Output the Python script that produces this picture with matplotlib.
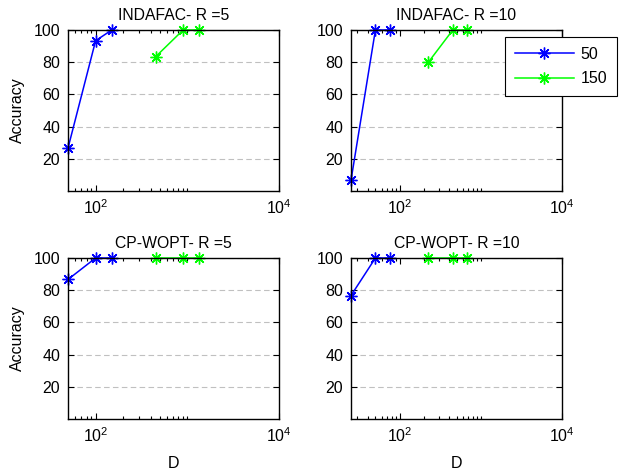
import matplotlib
import numpy as np

matplotlib.use("Agg")
import matplotlib.pyplot as plt  # noqa: E402
from matplotlib.ticker import FixedLocator, LogFormatterMathtext, NullFormatter  # noqa: E402

plt.rcParams["font.family"] = ["Liberation Sans", "DejaVu Sans"]
plt.rcParams["font.size"] = 11.5

# accuracy (%) vs D, for the two sample sizes (50 and 150)
titles = ["INDAFAC- R =5", "INDAFAC- R =10", "CP-WOPT- R =5", "CP-WOPT- R =10"]
d_50 = [[50, 100, 150], [25, 50, 75], [50, 100, 150], [25, 50, 75]]
d_150 = [[450, 900, 1350], [225, 450, 675], [450, 900, 1350], [225, 450, 675]]
acc_50 = [[26.67, 93.33, 100], [6.67, 100, 100], [86.67, 100, 100], [76.67, 100, 100]]
acc_150 = [[83.33, 100, 100], [80, 100, 100], [100, 100, 100], [100, 100, 100]]
series_labels = ["50", "150"]

W, H = 624, 472
fig = plt.figure(figsize=(W / 100, H / 100), dpi=100)
# axes boxes in pixels: left, top, right, bottom
boxes = [(68, 30, 279, 191), (351, 30, 562, 191),
         (68, 258, 279, 419), (351, 258, 562, 419)]
star = (8, 2, 0)  # asterisk marker

for i, (l, t, r, b) in enumerate(boxes):
    ax = fig.add_axes([l / W, 1 - b / H, (r - l) / W, (b - t) / H])
    ax.plot(d_50[i], acc_50[i], "-", color="#0000ff", lw=1.1, marker=star, ms=8.5,
            mew=1.0, label=series_labels[0], clip_on=False)
    ax.plot(d_150[i], acc_150[i], "-", color="#00ff00", lw=1.1, marker=star, ms=8.5,
            mew=1.0, label=series_labels[1], clip_on=False)
    ax.set_xscale("log")
    ax.set_xlim(d_50[i][0], 1e4)
    ax.set_ylim(0, 100)
    ax.xaxis.set_major_locator(FixedLocator([1e2, 1e4]))
    ax.xaxis.set_major_formatter(LogFormatterMathtext())
    minors = [m * 10 ** e for e in (1, 2) for m in range(2, 10)] + [1e3]
    ax.xaxis.set_minor_locator(FixedLocator([v for v in minors if v > d_50[i][0]]))
    ax.xaxis.set_minor_formatter(NullFormatter())
    ax.set_yticks([20, 40, 60, 80, 100])
    ax.tick_params(which="both", direction="in", top=True, right=True, width=0.8)
    ax.tick_params(axis="y", pad=5.5)
    ax.tick_params(axis="x", pad=5)
    ax.tick_params(which="major", length=4)
    ax.tick_params(which="minor", length=2)
    ax.yaxis.grid(True, ls=(0, (5, 3)), color="#c0c0c0", lw=0.8)
    ax.set_axisbelow(True)
    for s in ax.spines.values():
        s.set_linewidth(1.0)
    ax.set_title(titles[i], fontsize=11.3, pad=7.5)
    if i % 2 == 0:
        ax.set_ylabel("Accuracy", labelpad=6)
    if i >= 2:
        ax.set_xlabel("D", labelpad=8)
    if i == 1:
        leg = ax.legend(loc="upper right", bbox_to_anchor=(617 / W, 1 - 37 / H),
                        bbox_transform=fig.transFigure, borderaxespad=0,
                        fancybox=False, edgecolor="black", framealpha=1,
                        handlelength=3.7, borderpad=0.6, labelspacing=0.6,
                        handletextpad=0.45)
        leg.get_frame().set_linewidth(0.8)

fig.savefig("out.png", dpi=100)
